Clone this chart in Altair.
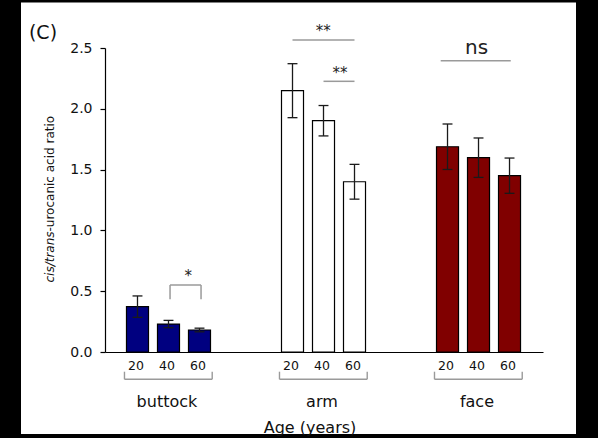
import altair as alt
import pandas as pd

# ---- data ----
groups = ["buttock", "arm", "face"]
ages = ["20", "40", "60"]
group_slots = [0, 5, 10]          # first bar slot of each group
means = [0.373, 0.230, 0.181, 2.149, 1.902, 1.400, 1.688, 1.598, 1.450]
errs = [0.088, 0.030, 0.015, 0.222, 0.125, 0.143, 0.187, 0.162, 0.145]
fills = ["#000080", "#ffffff", "#800000"]

# significance annotations (x in bar slots, y in ratio units)
sig_text = ["*", "**", "**", "ns"]
sig_x = [1.64, 5.99, 6.53, 10.94]
sig_y = [0.586, 2.596, 2.253, 2.451]
sig_size = [15, 15, 15, 20]
sig_line_x1 = [5.0, 6.0, 9.78]
sig_line_x2 = [7.0, 7.0, 12.04]
sig_line_y = [2.566, 2.226, 2.396]
bracket_x = [1.05, 2.05]
bracket_top = 0.551
bracket_leg = 0.433

FONT = "DejaVu Sans"

rows = []
for gi, g in enumerate(groups):
    for ai, a in enumerate(ages):
        k = gi * 3 + ai
        rows.append(dict(group=g, age=a, slot=group_slots[gi] + ai,
                         mean=means[k], err=errs[k], fill=fills[gi]))
bars_df = pd.DataFrame(rows)

groups_df = pd.DataFrame(dict(group=groups, first=group_slots))
sig_df = pd.DataFrame(dict(t=sig_text, x=sig_x, y=sig_y, s=sig_size))
lines_df = pd.DataFrame(dict(x1=sig_line_x1, x2=sig_line_x2, y=sig_line_y))
bracket_df = pd.DataFrame(dict(x1=[bracket_x[0]], x2=[bracket_x[1]],
                               top=[bracket_top], leg=[bracket_leg]))

xs = alt.Scale(domain=[-1.048, 13.08], nice=False, zero=False)
ys = alt.Scale(domain=[0, 2.5], nice=False)
XAX = alt.Axis(labels=False, ticks=False, grid=False, title=None, zindex=1,
               domainColor="black", domainWidth=1.2)
YAX = alt.Axis(values=[0, 0.5, 1.0, 1.5, 2.0, 2.5], format=".1f", zindex=1,
               grid=False, title=None, tickSize=5, tickColor="black",
               domainColor="black", domainWidth=1.2, tickWidth=1.2,
               labelFont=FONT, labelFontSize=14, labelColor="#111",
               labelPadding=8)
GREY = "#9a9a9a"


def X(f):
    return alt.X(f, scale=xs, axis=XAX)


def Y(f):
    return alt.Y(f, scale=ys, axis=YAX)


bg = alt.Chart(pd.DataFrame({"a": [0]})).mark_rect(color="white").encode(
    x=alt.value(-84), x2=alt.value(471), y=alt.value(-45.5), y2=alt.value(386))

base = alt.Chart(bars_df).transform_calculate(
    lo="datum.slot - 0.355", hi="datum.slot + 0.355",
    etop="datum.mean + datum.err", ebot="datum.mean - datum.err",
    clo="datum.slot - 0.16", chi="datum.slot + 0.16", zero="0")

bars = base.mark_bar(stroke="black", strokeWidth=1.2).encode(
    x=X("lo:Q"), x2="hi:Q", y=Y("mean:Q"), y2="zero:Q",
    color=alt.Color("fill:N", scale=None),
)

estem = base.mark_rule(color="#1a1a1a", strokeWidth=1.3).encode(
    x=X("slot:Q"), y=Y("etop:Q"), y2="ebot:Q")
ecap_t = base.mark_rule(color="#1a1a1a", strokeWidth=1.3).encode(
    x=X("clo:Q"), x2="chi:Q", y=Y("etop:Q"))
ecap_b = base.mark_rule(color="#1a1a1a", strokeWidth=1.3).encode(
    x=X("clo:Q"), x2="chi:Q", y=Y("ebot:Q"))

age_lbl = base.transform_calculate(tx="datum.slot - 0.05", ty="-0.115").mark_text(
    font=FONT, fontSize=12.5, color="#111", baseline="middle").encode(
    x=X("tx:Q"), y=Y("ty:Q"), text="age:N")

gbase = alt.Chart(groups_df).transform_calculate(
    bl="datum.first - 0.42", br="datum.first + 2.41",
    by="-0.2245", bt="-0.162", cx="datum.first + 0.95", cy="-0.452")
gline = gbase.mark_rule(color=GREY, strokeWidth=1.4).encode(
    x=X("bl:Q"), x2="br:Q", y=Y("by:Q"))
gleg_l = gbase.mark_rule(color=GREY, strokeWidth=1.4).encode(
    x=X("bl:Q"), y=Y("by:Q"), y2="bt:Q")
gleg_r = gbase.mark_rule(color=GREY, strokeWidth=1.4).encode(
    x=X("br:Q"), y=Y("by:Q"), y2="bt:Q")
glabel = gbase.mark_text(font=FONT, fontSize=16, color="#111",
                         baseline="alphabetic").encode(
    x=X("cx:Q"), y=Y("cy:Q"), text="group:N")

sig_lines = alt.Chart(lines_df).mark_rule(color=GREY, strokeWidth=1.5).encode(
    x=X("x1:Q"), x2="x2:Q", y=Y("y:Q"))
br_top = alt.Chart(bracket_df).mark_rule(color=GREY, strokeWidth=1.5).encode(
    x=X("x1:Q"), x2="x2:Q", y=Y("top:Q"))
br_l = alt.Chart(bracket_df).mark_rule(color=GREY, strokeWidth=1.5).encode(
    x=X("x1:Q"), y=Y("top:Q"), y2="leg:Q")
br_r = alt.Chart(bracket_df).mark_rule(color=GREY, strokeWidth=1.5).encode(
    x=X("x2:Q"), y=Y("top:Q"), y2="leg:Q")
sig_txt = alt.Chart(sig_df).mark_text(font=FONT, color="#222",
                                      baseline="alphabetic").encode(
    x=X("x:Q"), y=Y("y:Q"), text="t:N", size=alt.Size("s:Q", scale=None))

one = pd.DataFrame({"a": [0]})
age_title = alt.Chart(one).mark_text(font=FONT, fontSize=16, color="#111",
                                     baseline="alphabetic").encode(
    x=alt.value(205), y=alt.value(385), text=alt.value("Age (years)"))
panel = alt.Chart(one).mark_text(font=FONT, fontSize=19, color="#111",
                                 baseline="middle").encode(
    x=alt.value(-62), y=alt.value(-15), text=alt.value("(C)"))
ytitle_it = alt.Chart(one).mark_text(font=FONT, fontSize=12, fontStyle="italic",
                                     color="#111", angle=270, align="left",
                                     baseline="middle").encode(
    x=alt.value(-55), y=alt.value(234.5), text=alt.value("cis/trans"))
ytitle_rest = alt.Chart(one).mark_text(font=FONT, fontSize=12, color="#111",
                                       angle=270, align="left",
                                       baseline="middle").encode(
    x=alt.value(-55), y=alt.value(183.5), text=alt.value("-urocanic acid ratio"))

chart = alt.layer(
    bg, bars, estem, ecap_t, ecap_b, age_lbl, gline, gleg_l, gleg_r, glabel,
    sig_lines, br_top, br_l, br_r, sig_txt, age_title, panel, ytitle_it, ytitle_rest
).properties(
    width=438, height=304,
    autosize=alt.AutoSizeParams(type="none"),
    padding={"left": 105, "top": 48, "right": 55, "bottom": 86},
    background="black",
).configure_view(stroke=None)

chart.save("out.html", embed_options={"renderer": "svg", "actions": False})
